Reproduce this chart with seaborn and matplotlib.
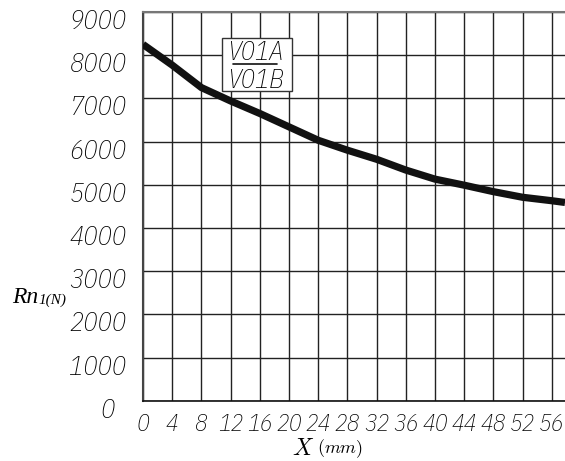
import numpy as np
import pandas as pd
import matplotlib
matplotlib.use("Agg")
import matplotlib.pyplot as plt
from matplotlib.patches import Rectangle
from matplotlib.lines import Line2D
import matplotlib.transforms as mtransforms
import seaborn as sns

sns.set_style("white")
plt.rcParams['font.family'] = ['IBM Plex Sans Condensed', 'DejaVu Sans']
plt.rcParams['font.style'] = 'italic'
plt.rcParams['font.weight'] = 'light'
plt.rcParams['text.color'] = 'black'
plt.rcParams['xtick.labelcolor'] = 'black'
plt.rcParams['ytick.labelcolor'] = 'black'
plt.rcParams['mathtext.fontset'] = 'cm'

# values
x_mm = [0, 4, 8, 12, 16, 20, 24, 28, 32, 36, 40, 44, 48, 52, 56, 57.8]
force_n = [8250, 7770, 7250, 6940, 6650, 6340, 6030, 5800, 5590, 5340,
           5130, 4990, 4840, 4710, 4630, 4590]
x_ticks = [0, 4, 8, 12, 16, 20, 24, 28, 32, 36, 40, 44, 48, 52, 56]
y_ticks = [0, 1000, 2000, 3000, 4000, 5000, 6000, 7000, 8000, 9000]
legend_top = "V01A"
legend_bottom = "V01B"

df = pd.DataFrame({"x": x_mm, "Rn1": force_n})

W, H = 565, 461
fig = plt.figure(figsize=(W / 100, H / 100), dpi=100)

def fx(px):
    return px / W

def fy(py):
    return 1 - py / H

ax = fig.add_axes([fx(143), fy(400.7), 1 - fx(143), fy(12) - fy(400.7)])

sns.lineplot(data=df, x="x", y="Rn1", ax=ax, color="#111111", linewidth=5.2,
             solid_capstyle="butt", zorder=3)

ax.set_xlim(0, 57.8)
ax.set_ylim(0, 9000)
ax.set_xticks(x_ticks)
ax.set_yticks(y_ticks)
ax.grid(True, color="#222222", linewidth=1.0)
ax.set_xlabel("")
ax.set_ylabel("")

ax.spines["right"].set_visible(False)
ax.spines["top"].set_color("#777777")
ax.spines["top"].set_linewidth(1.5)
ax.spines["left"].set_color("#444444")
ax.spines["left"].set_linewidth(1.5)
ax.spines["bottom"].set_color("#111111")
ax.spines["bottom"].set_linewidth(1.2)

ax.tick_params(axis="x", length=4, width=1.0, pad=5, labelsize=17, color="#222222")
ax.tick_params(axis="y", length=3, width=1.0, pad=9, labelsize=19, color="#222222")

# y labels sit slightly below their grid lines
down = mtransforms.ScaledTranslation(0, -7 / 100, fig.dpi_scale_trans)
for lab in ax.get_yticklabels():
    lab.set_transform(lab.get_transform() + down)
ax.get_yticklabels()[0].set_transform(
    ax.get_yticklabels()[0].get_transform()
    + mtransforms.ScaledTranslation(-12 / 100, 0, fig.dpi_scale_trans))

# axis labels: big letter + smaller unit
t_rn = fig.text(fx(12), fy(303), "Rn", fontsize=17, family="Liberation Serif",
                style="italic", weight="normal", va="baseline")
ax.annotate("1(N)", xy=(1, 0), xycoords=t_rn, xytext=(0, 1),
            textcoords="offset points", fontsize=11, family="Liberation Serif",
            style="italic", weight="normal", va="bottom", ha="left",
            annotation_clip=False)
t_x = fig.text(fx(292), fy(455), r"$X$", fontsize=17, va="baseline")
ax.annotate(r"$(mm)$", xy=(1, 0), xycoords=t_x, xytext=(2, 0),
            textcoords="offset points", fontsize=13,
            va="bottom", ha="left", annotation_clip=False)

# legend box with fraction-style labels
fig.patches.append(Rectangle((fx(221.7), fy(91)), fx(292.3) - fx(221.7),
                             fy(37.7) - fy(91), transform=fig.transFigure,
                             facecolor="white", edgecolor="#333333",
                             linewidth=1.0, zorder=5))
fig.text(fx(255), fy(53), legend_top, fontsize=19,
         ha="center", va="center", zorder=6)
fig.lines.append(Line2D([fx(233), fx(277)], [fy(64), fy(64)],
                        transform=fig.transFigure, color="#111111",
                        linewidth=1.2, zorder=6))
fig.text(fx(255), fy(81), legend_bottom, fontsize=19,
         ha="center", va="center", zorder=6)

fig.savefig("out.png", dpi=100)
